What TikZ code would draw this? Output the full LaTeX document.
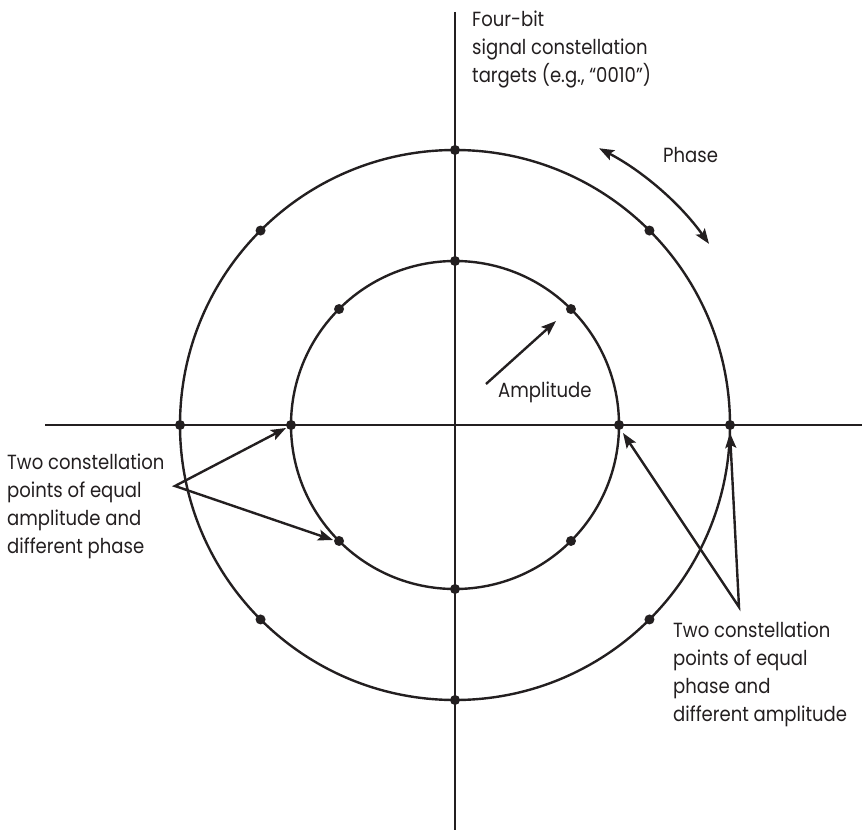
\documentclass[tikz,border=0pt]{standalone}
\usepackage{fontspec}
\setmainfont[FakeStretch=0.88]{Poppins}
\usetikzlibrary{arrows.meta}
\definecolor{ink}{HTML}{231F20}
\begin{document}
\begin{tikzpicture}[x=1pt,y=1pt,
  line/.style={draw=ink,line width=2.4pt},
  tip/.style={Stealth[length=15pt,width=11pt,inset=3pt]},
  ptr/.style={draw=ink,line width=2.4pt,-{Stealth[length=15pt,width=11pt,inset=3pt]}},
  dptr/.style={draw=ink,line width=2.4pt,{Stealth[length=15pt,width=11pt,inset=3pt]}-{Stealth[length=15pt,width=11pt,inset=3pt]}},
  dot/.style={circle,fill=ink,inner sep=0pt,minimum size=10pt},
  lbl/.style={font=\fontsize{20.5}{28}\selectfont,text=ink,inner sep=0pt,anchor=base west,align=left}]
\useasboundingbox (0,0) rectangle (862,-832);

% origin and axes
\coordinate (c) at (455,-425);
\coordinate (xl) at (45,-425);
\coordinate (xr) at (862,-425);
\coordinate (yt) at (455,-12);
\coordinate (yb) at (455,-830);
\draw[line] (xl) -- (xr);
\draw[line] (yt) -- (yb);

% amplitude rings
\draw[line] (c) circle[radius=275];
\draw[line] (c) circle[radius=164];

% constellation targets
\foreach \a in {0,45,...,315} {
  \node[dot] (o\a) at ([shift={(\a:275)}]c) {};
  \node[dot] (i\a) at ([shift={(\a:164)}]c) {};
}

% phase sweep
\draw[dptr] ([shift={(62.5:312)}]c) arc[start angle=62.5,end angle=35.5,radius=312];

% amplitude pointer
\coordinate (amp0) at (486,-384);
\coordinate (amp1) at (556,-321);
\draw[ptr] (amp0) -- (amp1);

% equal amplitude, different phase
\coordinate (lv) at (175,-486);
\coordinate (la) at (286,-428);
\coordinate (lb) at (333,-540);
\draw[dptr] (la) -- (lv) -- (lb);

% equal phase, different amplitude
\coordinate (rv) at (739,-607);
\coordinate (ra) at (623,-433);
\coordinate (rb) at (730,-433);
\draw[dptr] (ra) -- (rv) -- (rb);

% labels (base anchor sits on the last line of each block)
\node[lbl] (ttop) at (472,-83) {Four-bit\\signal constellation\\targets (e.g., “0010”)};
\node[lbl] (tphase) at (663,-163) {Phase};
\node[lbl] (tamp) at (498,-397) {Amplitude};
\node[lbl] (tleft) at (7,-553) {Two constellation\\points of equal\\amplitude and\\different phase};
\node[lbl] (tright) at (673,-721) {Two constellation\\points of equal\\phase and\\different amplitude};
\end{tikzpicture}
\end{document}
